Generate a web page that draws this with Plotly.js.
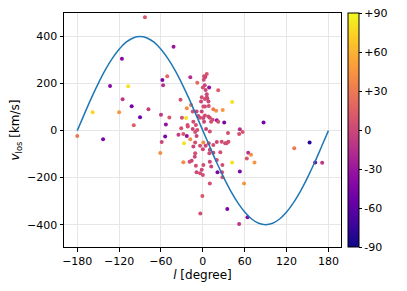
<!DOCTYPE html>
<html>
<head>
<meta charset="utf-8">
<script src="https://cdn.plot.ly/plotly-3.0.1.min.js"></script>
<style>html,body{margin:0;padding:0;background:#fff;}#chart{width:407px;height:291px;}</style>
</head>
<body>
<div id="chart"></div>
<script>
// Scatter points: galactic longitude l [deg], line-of-sight velocity [km/s], colour value
const lDeg = [-180,-158,-143,-133,-116,-120,-107,-115,-102,-99,-90,-83,-78,-60,-58,-57,-51,-48,-53,-54,-59,-61,-42,-32,-30,-28,-24,-23,-22,-18,-17,-14.5,-13.6,-9,-8,-10,-6.5,-4,-1.6,-1.6,-2.6,-31,-35,-28,-23,-27,-18,-21.6,-14.5,-11,-9,-11,-13.6,-11,-11.6,-19,-16,-10,-9,-4,-1.6,0,0,-4,0.7,0.7,-0.7,-3.6,-8,
  1.7,5.6,3.6,1.3,2.7,9,0,4,22,5.6,5.6,6.5,3,8,8.5,3,0.7,15,19,28.5,42,3,0.7,8,10,14,20,11.8,1.7,22,30.6,4.6,10,36,53,57,52,87,36.6,32,27,20,34,8.5,4,15,10,9.3,15,25,65,69,63,74,42,28,10,20,12,21,27.5,28,53,59,10,35,64,52,131,153,161,171];
const vLos = [-23,78,-37,190,305,78,188,133,104,23,57,482,91,67,215,193,231,56,26,-25,-48,-95,357,131,55,-135,53,95,24,227,109,81,38,81,203,24,62,55,81,142,124,10,-18,-15,-23,-54,-37,17,7,-6,-23,-51,-68,-96,-111,-132,-128,-150,-177,-181,-167,-189,-79,-65,-51,-146,-278,-353,3,
  231,241,228,216,193,183,183,173,171,155,142,136,134,124,105,102,102,91,84,88,122,64,53,60,55,46,44,38,38,38,34,7,-4,-10,6,-6,-14,34,-47,-54,-47,-48,-54,-54,-65,-61,-82,-96,-94,-92,-94,-103,-119,-136,-136,-146,-132,-125,-153,-177,-177,-198,-174,-225,-225,-333,-369,-397,-75,-51,-136,-137];
const colorVal = [30,75,-45,-40,-40,45,80,-10,-50,15,-50,10,-5,-10,-45,-15,20,10,-35,-45,0,40,-30,5,5,40,80,40,10,-15,30,5,5,0,20,5,0,5,0,5,0,5,-5,10,-35,80,40,5,0,5,0,5,0,5,0,5,0,5,0,5,0,5,0,5,40,5,10,5,5,
  5,10,0,5,0,-35,5,0,15,0,5,0,5,0,5,0,5,30,40,45,80,5,0,5,0,5,-30,5,0,5,-45,0,5,5,-15,10,5,-50,5,0,5,0,5,5,0,5,0,5,0,5,-15,40,10,45,80,5,0,5,0,-45,5,10,-45,45,5,-45,-40,-10,30,-80,-50,-10];

// Reference curve (l [deg], v [km/s])
const curveL = [-180,-170,-160,-150,-140,-130,-120,-110,-100,-90,-80,-70,-60,-50,-40,-30,-20,-10,0,10,20,30,40,50,60,70,80,90,100,110,120,130,140,150,160,170,180];
const curveV = [0,69,137,200,257,306,346,376,394,400,394,376,346,306,257,200,137,69,0,-69,-137,-200,-257,-306,-346,-376,-394,-400,-394,-376,-346,-306,-257,-200,-137,-69,0];

const xTicks = [-180,-120,-60,0,60,120,180];
const yTicks = [-400,-200,0,200,400];
const cbTicks = [-90,-60,-30,0,30,60,90];
const cbTickText = ['-90','-60','-30','0','+30','+60','+90'];

const plasma = [[0,'#0d0887'],[0.1,'#41049d'],[0.2,'#6a00a8'],[0.3,'#8f0da4'],[0.4,'#b12a90'],[0.5,'#cc4778'],[0.6,'#e16462'],[0.7,'#f2844b'],[0.8,'#fca636'],[0.9,'#fcce25'],[1,'#f0f921']];

const font = {family:'DejaVu Sans', size:11, color:'#000'};

const traces = [
  {
    x: lDeg, y: vLos, type:'scatter', mode:'markers',
    marker:{
      size:4, color: colorVal, colorscale: plasma, cmin:-90, cmax:90,
      line:{width:0},
      showscale:true,
      colorbar:{
        x:1.025, xanchor:'left', xpad:0, y:0.5, yanchor:'middle', ypad:0,
        len:1, lenmode:'fraction', thickness:11,
        outlinewidth:1, outlinecolor:'#000',
        tickmode:'array', tickvals: cbTicks, ticktext: cbTickText,
        ticks:'outside', ticklen:3, tickcolor:'#000',
        tickfont:{family:'DejaVu Sans', size:11, color:'#000'}
      }
    },
    showlegend:false, hoverinfo:'skip'
  },
  {
    x: curveL, y: curveV, type:'scatter', mode:'lines',
    line:{color:'#1f77b4', width:1.5, shape:'spline'},
    showlegend:false, hoverinfo:'skip'
  }
];

const layout = {
  width:407, height:291,
  margin:{l:64, r:66, t:13, b:44, pad:0},
  paper_bgcolor:'#fff', plot_bgcolor:'#fff',
  font: font,
  xaxis:{
    range:[-199,198], tickmode:'array', tickvals:xTicks,
    ticks:'outside', ticklen:3.5, tickcolor:'#000',
    showline:true, linecolor:'#000', linewidth:1, mirror:true,
    showgrid:true, gridcolor:'#e6e6e6', gridwidth:1, zeroline:false,
    tickfont:{family:'DejaVu Sans', size:11, color:'#000'},
    title:{text:'<i>l</i> [degree]', font:{family:'DejaVu Sans', size:12, color:'#000'}, standoff:2}
  },
  yaxis:{
    range:[-495,500], tickmode:'array', tickvals:yTicks,
    ticks:'outside', ticklen:3.5, tickcolor:'#000',
    showline:true, linecolor:'#000', linewidth:1, mirror:true,
    showgrid:true, gridcolor:'#e6e6e6', gridwidth:1, zeroline:false,
    tickfont:{family:'DejaVu Sans', size:11, color:'#000'},
    title:{text:'<i>v</i><sub>los</sub> [km/s]', font:{family:'DejaVu Sans', size:12, color:'#000'}, standoff:4}
  }
};

Plotly.newPlot('chart', traces, layout, {displayModeBar:false, staticPlot:true});
</script>
</body>
</html>
